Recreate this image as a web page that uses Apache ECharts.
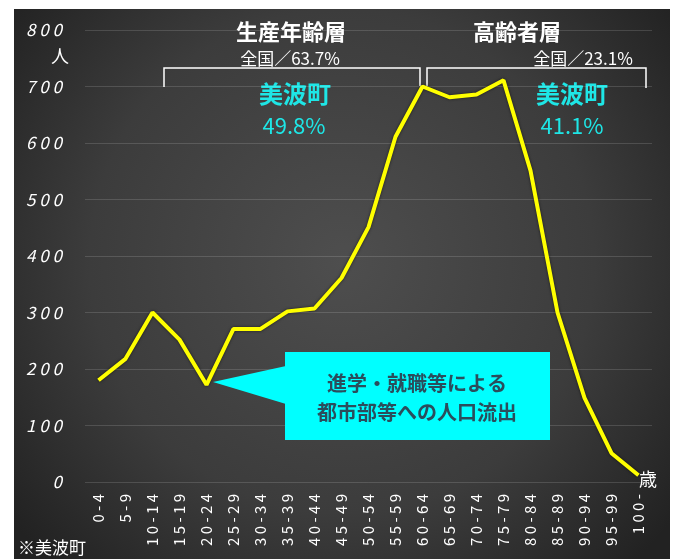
<!DOCTYPE html>
<html><head><meta charset="utf-8">
<script src="https://cdn.jsdelivr.net/npm/echarts@6/dist/echarts.min.js"></script>
<style>html,body{margin:0;padding:0;background:#fff}#c{width:679px;height:559px}</style>
</head><body><div id="c"></div>
<script>
const categories = ['0-4','5-9','10-14','15-19','20-24','25-29','30-34','35-39','40-44','45-49','50-54','55-59','60-64','65-69','70-74','75-79','80-84','85-89','90-94','95-99','100-'];
const population = [180,218,300,252,172,271,271,302,307,361,451,611,700,681,686,711,551,300,149,51,12];
const yTicks = [0,100,200,300,400,500,600,700,800];

const F = '"Noto Sans CJK JP", "Noto Sans", sans-serif';
const chart = echarts.init(document.getElementById('c'));
const cyan = '#1ee6e6';
chart.setOption({
  backgroundColor: '#ffffff',
  animation: false,
  grid: {left: 85, right: 27, top: 30, bottom: 77, containLabel: false},
  xAxis: {
    type: 'category', data: categories, boundaryGap: true,
    axisLine: {show: false}, axisTick: {show: false},
    axisLabel: {rotate: 90, color: '#ffffff', fontSize: 15, fontFamily: F, margin: 12, interval: 0,
      formatter: v => v.split('').join(' ')}
  },
  yAxis: {
    type: 'value', min: 0, max: 800, interval: 100,
    axisLine: {show: false}, axisTick: {show: false},
    axisLabel: {color: '#ffffff', fontSize: 17, fontFamily: F, margin: 23, fontStyle: 'italic',
      formatter: v => yTicks.includes(v) ? String(v).split('').join(' ') : ''},
    splitLine: {lineStyle: {color: 'rgba(255,255,255,0.14)', width: 1}}
  },
  series: [{
    type: 'line', data: population, symbol: 'none',
    lineStyle: {color: '#ffff00', width: 4, shadowColor: 'rgba(0,0,0,0.6)', shadowBlur: 3},
    z: 5
  }],
  graphic: [
    {type: 'rect', z: -100, silent: true, shape: {x: 14, y: 9, width: 656, height: 560},
      style: {fill: new echarts.graphic.RadialGradient(0.5, 0.45, 0.75, [
        {offset: 0, color: '#4e4e4e'}, {offset: 0.6, color: '#3c3c3c'}, {offset: 1, color: '#222222'}])}},
    {type: 'text', x: 60, y: 56, style: {text: '人', fill: '#fff', font: '18px ' + F, textAlign: 'center', textVerticalAlign: 'middle'}},
    {type: 'text', x: 648, y: 479, style: {text: '歳', fill: '#fff', font: '18px ' + F, textAlign: 'center', textVerticalAlign: 'middle'}},
    {type: 'text', x: 18, y: 548, style: {text: '※美波町', fill: '#fff', font: '17px ' + F, textAlign: 'left', textVerticalAlign: 'middle'}},
    {type: 'text', x: 291, y: 32, style: {text: '生産年齢層', fill: '#fff', font: 'bold 22px ' + F, textAlign: 'center', textVerticalAlign: 'middle'}},
    {type: 'text', x: 517, y: 32, style: {text: '高齢者層', fill: '#fff', font: 'bold 22px ' + F, textAlign: 'center', textVerticalAlign: 'middle'}},
    {type: 'text', x: 290, y: 59, style: {text: '全国／63.7%', fill: '#fff', font: '17px ' + F, textAlign: 'center', textVerticalAlign: 'middle'}},
    {type: 'text', x: 583, y: 59, style: {text: '全国／23.1%', fill: '#fff', font: '17px ' + F, textAlign: 'center', textVerticalAlign: 'middle'}},
    {type: 'polyline', shape: {points: [[164, 87], [164, 68], [420, 68], [420, 86]]}, style: {stroke: '#fff', lineWidth: 1.5, fill: null}},
    {type: 'polyline', shape: {points: [[427, 86], [427, 68], [646, 68], [646, 88]]}, style: {stroke: '#fff', lineWidth: 1.5, fill: null}},
    {type: 'text', x: 295, y: 94, style: {text: '美波町', fill: cyan, font: 'bold 24px ' + F, textAlign: 'center', textVerticalAlign: 'middle'}},
    {type: 'text', x: 294, y: 126, style: {text: '49.8%', fill: cyan, font: '22px ' + F, textAlign: 'center', textVerticalAlign: 'middle'}},
    {type: 'text', x: 572, y: 94, style: {text: '美波町', fill: cyan, font: 'bold 24px ' + F, textAlign: 'center', textVerticalAlign: 'middle'}},
    {type: 'text', x: 572, y: 126, style: {text: '41.1%', fill: cyan, font: '22px ' + F, textAlign: 'center', textVerticalAlign: 'middle'}},
    {type: 'polygon', z: 10, shape: {points: [[286, 366], [213, 382], [286, 404]]}, style: {fill: '#00ffff'}},
    {type: 'rect', z: 10, shape: {x: 285, y: 352, width: 265, height: 88}, style: {fill: '#00ffff'}},
    {type: 'text', z: 11, x: 417, y: 383, style: {text: '進学・就職等による', fill: '#2b4d5c', font: 'bold 20px ' + F, textAlign: 'center', textVerticalAlign: 'middle'}},
    {type: 'text', z: 11, x: 417, y: 412, style: {text: '都市部等への人口流出', fill: '#2b4d5c', font: 'bold 20px ' + F, textAlign: 'center', textVerticalAlign: 'middle'}}
  ]
});
</script></body></html>
